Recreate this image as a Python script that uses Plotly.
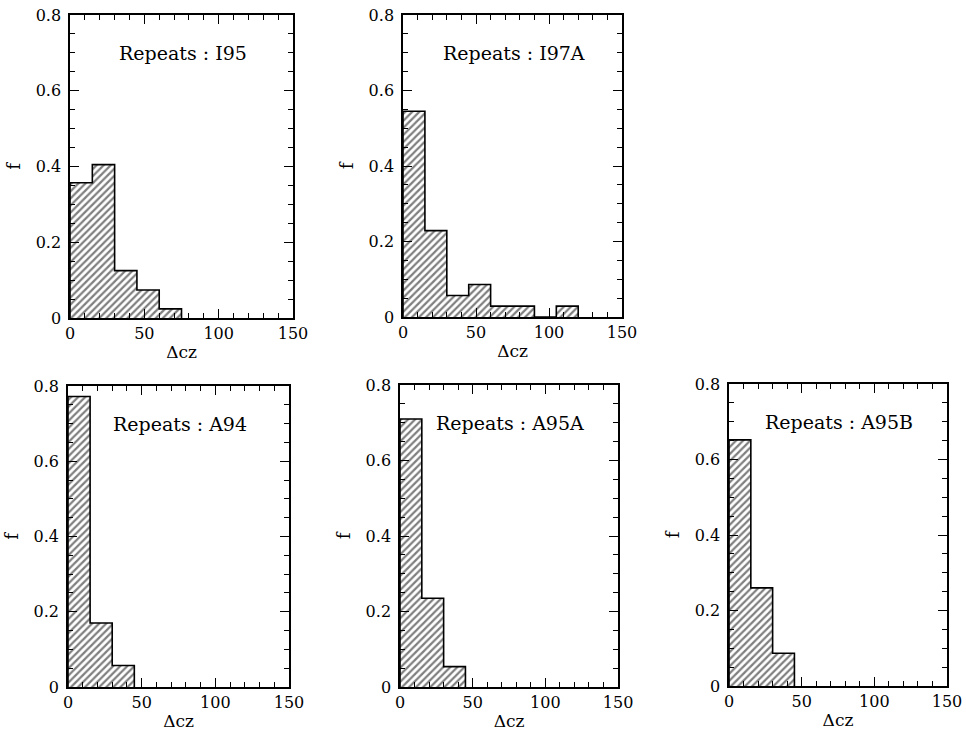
import plotly.graph_objects as go

# Velocity differences of repeat observations, binned in 15 km/s bins
bin_width = 15
panel_names = ["I95", "I97A", "A94", "A95A", "A95B"]
frac_i95 = [0.357, 0.405, 0.125, 0.074, 0.024]
frac_i97a = [0.545, 0.229, 0.057, 0.086, 0.029, 0.029, 0.0, 0.029]
frac_a94 = [0.772, 0.170, 0.057]
frac_a95a = [0.710, 0.235, 0.054]
frac_a95b = [0.652, 0.260, 0.087]
x_ticks = [0, 50, 100, 150]
y_ticks = [0, 0.2, 0.4, 0.6, 0.8]
y_tick_text = ["0", "0.2", "0.4", "0.6", "0.8"]

fractions = [frac_i95, frac_i97a, frac_a94, frac_a95a, frac_a95b]

# panel domains (paper fractions): x0, x1, y0, y1
domains = [
    (0.0725, 0.3033, 0.5656, 0.9795),
    (0.4172, 0.6439, 0.5669, 0.9795),
    (0.0704, 0.2992, 0.0615, 0.4727),
    (0.4141, 0.6398, 0.0615, 0.4740),
    (0.7547, 0.9803, 0.0628, 0.4754),
]

SERIF = "DejaVu Serif"
TICK_FONT = dict(family=SERIF, size=16, color="black")

fig = go.Figure()
layout = dict(
    width=966, height=732,
    margin=dict(l=0, r=0, t=0, b=0),
    paper_bgcolor="white", plot_bgcolor="white",
    showlegend=False, bargap=0,
    annotations=[],
)

for i, (name, vals, dom) in enumerate(zip(panel_names, fractions, domains)):
    n = i + 1
    xa = "x" if n == 1 else f"x{n}"
    ya = "y" if n == 1 else f"y{n}"
    lefts = [k * bin_width for k in range(len(vals))]
    centers = [l + bin_width / 2 for l in lefts]

    # hatched bars
    fig.add_trace(go.Bar(
        x=centers, y=vals, width=bin_width,
        xaxis=xa, yaxis=ya,
        marker=dict(
            color="white",
            line=dict(width=0),
            pattern=dict(shape="/", fgcolor="black", bgcolor="white",
                         size=5, solidity=0.45),
        ),
        hoverinfo="skip",
    ))

    # histogram step outline
    sx, sy = [0], [0]
    for l, v in zip(lefts, vals):
        sx += [l, l + bin_width]
        sy += [v, v]
    sx.append(lefts[-1] + bin_width)
    sy.append(0)
    fig.add_trace(go.Scatter(
        x=sx, y=sy, mode="lines", xaxis=xa, yaxis=ya,
        line=dict(color="black", width=1.6),
        cliponaxis=False, hoverinfo="skip",
    ))

    axis_common = dict(
        showgrid=False, zeroline=False, automargin=False,
        showline=True, linecolor="black", linewidth=1.5, mirror="allticks",
        ticks="inside", tickcolor="black", tickwidth=1.2,
        tickfont=TICK_FONT,
    )
    xkey = "xaxis" if n == 1 else f"xaxis{n}"
    ykey = "yaxis" if n == 1 else f"yaxis{n}"
    layout[xkey] = dict(
        axis_common, domain=[dom[0], dom[1]], anchor=ya,
        range=[0, 150], tickvals=x_ticks, ticklen=9,
        minor=dict(dtick=10, ticklen=5, ticks="inside", tickcolor="black", tickwidth=1),
        title=dict(text="Δcz", font=dict(family=SERIF, size=17, color="black"), standoff=4),
    )
    layout[ykey] = dict(
        axis_common, domain=[dom[2], dom[3]], anchor=xa,
        range=[0, 0.8], tickvals=y_ticks, ticktext=y_tick_text, ticklen=9,
        ticklabelstandoff=4,
        minor=dict(dtick=0.05, ticklen=5, ticks="inside", tickcolor="black", tickwidth=1),
        title=dict(text="f", font=dict(family=SERIF, size=18, color="black"), standoff=10),
    )
    layout["annotations"].append(dict(
        text=f"Repeats : {name}", x=76, y=0.70, xref=xa, yref=ya,
        showarrow=False, xanchor="center", yanchor="middle",
        font=dict(family=SERIF, size=19, color="black"),
    ))

fig.update_layout(**layout)
fig.write_html("out.html")
